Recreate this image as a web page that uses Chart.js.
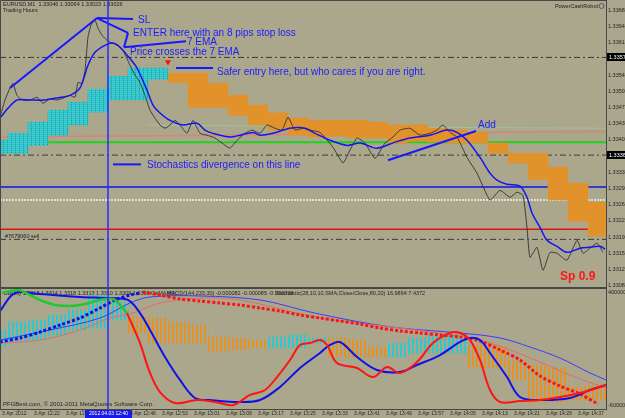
<!DOCTYPE html>
<html>
<head>
<meta charset="utf-8">
<title>EURUSD,M1</title>
<script src="https://cdn.jsdelivr.net/npm/chart.js@4.4.1/dist/chart.umd.min.js"></script>
<style>
    html, body { margin: 0; padding: 0; background: #aaa78c; }
    #wrap { position: relative; width: 625px; height: 418px; overflow: hidden; }
    canvas { position: absolute; left: 0; }
    #mainChart { top: 0; }
    #subChart { top: 288px; }
</style>
</head>
<body>
<div id="wrap">
    <canvas id="mainChart" width="625" height="288"></canvas>
    <canvas id="subChart" width="625" height="130"></canvas>
</div>
<script>
const FONT = "'Liberation Sans', Arial, sans-serif"
const BG = '#aaa78c'
const FRAME = '#474747'
const LAST_BAR = 151.5 // bars visible on screen (one M1 candle per step)

// ---- axis labels ----
const priceTicks = [1.33680, 1.33645, 1.33610, 1.33575, 1.33540, 1.33505, 1.33470, 1.33435, 1.33400,
    1.33365, 1.33330, 1.33295, 1.33260, 1.33225, 1.33190, 1.33155, 1.33120, 1.33085]
const timeTickBars = [0.5, 8.5, 16.5, 24.5, 32.5, 40.5, 48.5, 56.5, 64.5, 72.5, 80.5, 88.5, 96.5,
    104.5, 112.5, 120.5, 128.5, 136.5, 144.5]
const timeLabels = ['3 Apr 2012', '3 Apr 12:22', '3 Apr 12:30', '3 Apr 12:38', '3 Apr 12:46', '3 Apr 12:53',
    '3 Apr 13:01', '3 Apr 13:09', '3 Apr 13:17', '3 Apr 13:25', '3 Apr 13:33', '3 Apr 13:41', '3 Apr 13:49',
    '3 Apr 13:57', '3 Apr 14:05', '3 Apr 14:13', '3 Apr 14:21', '3 Apr 14:29', '3 Apr 14:37']
const subTickVals = [96, 2.5]
const subTickLabels = ['400000', '-600000']
const entryBar = 27
const entryTime = '2012.04.03 12:40'

// ---- price window: [bar, price] ----
const closeLine = [[0, 1.33449], [1.25, 1.33486], [2.5, 1.33512], [3.25, 1.33522], [4.25, 1.33496], [5.5, 1.33486],
    [7.5, 1.33486], [9.25, 1.33492], [10.75, 1.33479], [12.5, 1.33488], [14.25, 1.33486], [15.75, 1.33490],
    [17.5, 1.33496], [18.75, 1.33492], [19.5, 1.33524], [20.5, 1.33522], [21.25, 1.33550], [22, 1.33622],
    [22.75, 1.33648], [23.75, 1.33658], [24.5, 1.33641], [25.5, 1.33626], [26.75, 1.33615], [28, 1.33609],
    [29.5, 1.33604], [31, 1.33589], [32.5, 1.33561], [33.75, 1.33540], [35, 1.33524], [36.25, 1.33496],
    [37.5, 1.33464], [38.75, 1.33447], [40, 1.33432], [41.25, 1.33425], [42.5, 1.33432], [43.75, 1.33442],
    [45, 1.33432], [46.75, 1.33414], [48.25, 1.33442], [50, 1.33414], [51.75, 1.33410], [53.75, 1.33404],
    [55.5, 1.33393], [57.5, 1.33382], [59.25, 1.33399], [61.25, 1.33414], [63, 1.33421], [65, 1.33414],
    [66.75, 1.33432], [68.75, 1.33425], [70.5, 1.33421], [72, 1.33449], [73.75, 1.33421], [75.75, 1.33425],
    [77.5, 1.33421], [80, 1.33416], [83.25, 1.33384], [85.75, 1.33350], [87.5, 1.33378], [89.25, 1.33404],
    [91.25, 1.33393], [93.75, 1.33360], [96.25, 1.33393], [98.25, 1.33406], [100, 1.33421], [102.5, 1.33425],
    [105, 1.33410], [107.5, 1.33414], [109.25, 1.33421], [110.75, 1.33432], [112.5, 1.33416], [114.25, 1.33406],
    [116.75, 1.33362], [119.25, 1.33328], [122.5, 1.33270], [125, 1.33291], [127.5, 1.33276], [129.25, 1.33287],
    [130.75, 1.33280], [131.75, 1.33211], [132.5, 1.33146], [134.25, 1.33168], [135.75, 1.33118], [137.5, 1.33157],
    [139.25, 1.33155], [141.75, 1.33140], [144.25, 1.33183], [145.75, 1.33155], [147.5, 1.33166], [149.25, 1.33177],
    [150.75, 1.33157]]
const ema7 = [[0, 1.33447], [2, 1.33468], [4.25, 1.33486], [7.5, 1.33486], [11.25, 1.33486], [13.75, 1.33490],
    [17.5, 1.33496], [20, 1.33512], [22, 1.33561], [23.75, 1.33589], [26.25, 1.33604], [28.25, 1.33609],
    [30, 1.33600], [31.75, 1.33583], [34.25, 1.33555], [36.75, 1.33507], [38.25, 1.33475], [40, 1.33458],
    [42.5, 1.33442], [45.75, 1.33432], [49.25, 1.33436], [51.25, 1.33421], [53.25, 1.33414], [57.5, 1.33406],
    [60, 1.33410], [63.25, 1.33416], [65, 1.33410], [68.25, 1.33414], [72.5, 1.33425], [76.25, 1.33425],
    [78.75, 1.33414], [82.5, 1.33399], [86.75, 1.33388], [90, 1.33393], [94.25, 1.33382], [98.75, 1.33395],
    [102.5, 1.33404], [107.5, 1.33410], [111.75, 1.33421], [114.25, 1.33416], [116.75, 1.33399], [120, 1.33362],
    [122.5, 1.33328], [124.25, 1.33313], [126.75, 1.33304], [130, 1.33300], [131.75, 1.33276], [133, 1.33242],
    [135, 1.33211], [136.75, 1.33183], [139.25, 1.33170], [141.75, 1.33157], [145, 1.33166], [147.5, 1.33168],
    [150, 1.33170], [151.25, 1.33164]]
const slowMa = [[0, 1.33406], [40, 1.33409], [80, 1.33412], [120, 1.33416], [151.5, 1.33418]]
const paleMa = [[37, 1.33432], [90, 1.33428], [151.5, 1.33425]]

const dashDotLevels = [1.33578, 1.33367, 1.33185]
const greenLevel = 1.33395
const blueLevel = 1.33298
const whiteLevel = 1.33270
const redLevel = 1.33207

// box bars, 5 candles each
const cyanBoxBars = [-0.5, 4.5, 9.5, 14.5, 19.5, 24.5, 29.5, 34.5, 39.5]
const cyanBoxHigh = [1.33399, 1.33414, 1.33438, 1.33464, 1.33481, 1.33509, 1.33537, 1.33555, 1.33555]
const cyanBoxLow = [1.33371, 1.33371, 1.33388, 1.33410, 1.33432, 1.33460, 1.33486, 1.33486, 1.33531]
const orangeBoxBars = [44.5, 49.5, 54.5, 59.5, 64.5, 69.5, 74.5, 79.5, 84.5, 89.5, 94.5, 99.5, 104.5, 109.5,
    114.5, 119.5, 124.5, 129.5, 134.5, 139.5, 144.5, 149.5]
const orangeBoxHigh = [1.33544, 1.33544, 1.33522, 1.33496, 1.33475, 1.33458, 1.33447, 1.33442, 1.33442, 1.33442,
    1.33438, 1.33432, 1.33432, 1.33425, 1.33421, 1.33416, 1.33393, 1.33371, 1.33371, 1.33341, 1.33306, 1.33265]
const orangeBoxLow = [1.33524, 1.33470, 1.33470, 1.33453, 1.33432, 1.33421, 1.33410, 1.33406, 1.33408, 1.33404,
    1.33404, 1.33393, 1.33397, 1.33395, 1.33393, 1.33393, 1.33371, 1.33350, 1.33315, 1.33270, 1.33224, 1.33192]

// hand drawn trend lines
const drawnLines = [
    [[2.5, 1.33512], [24.25, 1.33663]],
    [[24.25, 1.33663], [33.25, 1.33661]],
    [[24.25, 1.33663], [32, 1.33631]],
    [[32, 1.33631], [31, 1.33600]],
    [[31, 1.33600], [46.5, 1.33613]],
    [[44, 1.33555], [53.25, 1.33555]],
    [[28.25, 1.33347], [35.25, 1.33347]],
    [[97, 1.33356], [119, 1.33419]],
]
const arrowPoint = [42, 1.33568]
const notes = [
    ['SL', 34.5, 1.33659],
    ['ENTER here with an 8 pips stop loss', 33.25, 1.33631],
    ['7 EMA', 46.75, 1.33611],
    ['Price crosses the 7 EMA', 32.5, 1.33590],
    ['Safer entry here, but who cares if you are right.', 54.25, 1.33546],
    ['Add', 119.5, 1.33432],
    ['Stochastics divergence on this line', 36.75, 1.33346],
]
const spreadNote = ['Sp 0.9', 140, 1.33104]

// ---- indicator window: [bar, value] ----
const subBoxBars = [-0.5, 4.5, 9.5, 14.5, 19.5, 24.5, 29.5, 34.5, 39.5, 44.5, 49.5, 54.5, 59.5, 64.5, 69.5,
    74.5, 79.5, 84.5, 89.5, 94.5, 99.5, 104.5, 109.5, 114.5, 119.5, 124.5, 129.5, 134.5, 139.5, 144.5, 149.5]
const subBoxHigh = [65.3, 71.9, 73.6, 77.7, 81.8, 94.2, 88.4, 76.0, 75.2, 71.9, 69.4, 59.5, 58.7, 57.0, 59.5,
    61.2, 58.7, 58.7, 57.0, 51.2, 54.5, 58.7, 61.2, 61.2, 52.9, 51.2, 40.5, 36.4, 33.9, 18.2, 19.8]
const subBoxLow = [51.2, 55.4, 57.0, 61.2, 65.3, 66.9, 73.6, 62.8, 54.5, 54.5, 54.5, 47.1, 48.8, 50.4, 50.4,
    50.4, 54.5, 43.0, 43.0, 43.0, 43.0, 46.3, 46.3, 46.3, 33.9, 33.9, 24.0, 5.8, 5.8, 7.4, 7.4]
const subBoxUp = [1, 1, 1, 1, 1, 1, 1, 0, 0, 0, 0, 0, 0, 0, 1, 1, 1, 0, 0, 0, 1, 1, 1, 1, 0, 0, 0, 0, 0, 0, 0]

const stochMainUp = [[0.5, 95.9], [4.5, 98.3], [7.5, 94.2], [10, 90.1], [13.75, 86.0], [17.5, 85.1], [21.25, 86.8],
    [25, 90.1], [28.25, 90.9], [30, 86.0], [31.75, 79.3]]
const stochMainDown = [[31.75, 79.3], [35, 54.5], [37.5, 29.8], [40, 14.0], [43.75, 5.0], [49.25, 7.4], [53.75, 5.8],
    [58.25, 3.3], [62.5, 11.6], [66.25, 15.7], [69.25, 26.4], [72.5, 40.5], [75, 52.9], [77.5, 54.5], [80, 57.0],
    [81.75, 52.9], [84.25, 38.0], [89.25, 33.9], [93.25, 26.4], [96.75, 34.7], [100, 29.8], [104.25, 38.8],
    [108.25, 54.5], [112.5, 62.8], [115, 62.8], [117.5, 57.0], [120, 40.5], [122.5, 15.7], [125, 5.8], [130, 6.6],
    [135, 7.4], [140, 9.9], [145, 13.2], [150, 18.2], [151.5, 19.8]]
const stochSignal = [[0, 81.0], [3.75, 95.9], [10, 95.0], [20, 92.6], [27.5, 91.7], [32, 90.1], [35, 79.3],
    [37.5, 65.3], [41.25, 43.0], [45, 24.0], [48.75, 9.1], [52.5, 7.4], [60, 5.8], [65, 7.4], [70, 18.2], [75, 33.9],
    [80, 46.3], [82.5, 52.9], [85, 55.4], [89.25, 43.0], [94.25, 32.2], [100, 30.6], [104.25, 36.4], [110, 44.6],
    [115, 55.4], [117.5, 58.7], [120, 57.0], [122.5, 46.3], [126.75, 26.4], [130, 9.9], [135, 7.4], [142.5, 9.1],
    [147.5, 15.7], [151.5, 19.8]]
const macdSignalUp = [[0, 55.4], [5, 58.7], [10, 63.6], [15, 69.4], [20, 75.2], [25, 83.5], [28.75, 90.1],
    [32.5, 94.2], [35, 95.9]]
const macdSignalDown = [[35.75, 96.7], [40, 94.2], [45, 90.9], [50, 89.3], [55, 87.6], [60, 86.0], [65, 83.5],
    [70, 81.0], [75, 77.7], [80, 75.2], [85, 72.7], [90, 70.2], [95, 66.9], [100, 64.5], [105, 62.8], [110, 61.2],
    [115, 59.5], [120, 56.2], [125, 48.8], [130, 40.5], [135, 27.3], [140, 19.0], [145, 12.4], [149.5, 4.1]]
const macdMain = [[0, 57.0], [12.5, 65.3], [25, 75.2], [32.5, 87.6], [37.5, 92.6], [50, 93.4], [65, 90.1],
    [77.5, 80.2], [90, 71.9], [100, 66.9], [115, 62.8], [125, 58.7], [132.5, 51.2], [140, 42.1], [147.5, 29.8],
    [151.5, 24.0]]
const macdSlow = [[0, 54.5], [10, 57.0], [20, 65.3], [27.5, 75.2], [33.25, 79.3], [40, 87.6], [50, 91.7],
    [60, 90.1], [77.5, 76.9], [87.5, 71.9], [100, 66.9], [112.5, 61.2], [120, 57.0], [127.5, 48.8], [135, 38.8],
    [142.5, 28.1], [150, 19.0], [151.5, 17.4]]

// ---- helpers ----
const toXY = (pts) => pts.map(([x, y]) => ({ x, y }))
const flat = (v) => [{ x: 0, y: v }, { x: LAST_BAR, y: v }]
const boxes = (bars, lo, hi) => bars.map((b, i) => ({ x: b, y: [lo[i], hi[i]] }))

function lineSet(data, color, width, order, extra) {
    return Object.assign({
        type: 'line',
        data,
        borderColor: color,
        borderWidth: width,
        pointRadius: 0,
        fill: false,
        tension: 0,
        order,
    }, extra || {})
}

function boxSet(data, fill, order) {
    return {
        type: 'bar',
        data,
        backgroundColor: fill,
        borderWidth: 0,
        barThickness: 20,
        grouped: false,
        order,
    }
}

function stripes(ctx, color, on, speck) {
    const c = document.createElement('canvas')
    c.width = 4
    c.height = 2
    const g = c.getContext('2d')
    g.fillStyle = color
    g.fillRect(0, 0, on, 2)
    if (speck) {
        g.fillStyle = speck
        g.fillRect(3, 0, 1, 1)
    }
    return ctx.createPattern(c, 'repeat')
}

function priceAxis(ticks, labelFn) {
    return {
        position: 'right',
        afterBuildTicks: (s) => { s.ticks = ticks.map((v) => ({ value: v })) },
        afterFit: (s) => { s.width = 19; s.paddingTop = 0; s.paddingBottom = 0 },
        grid: { drawOnChartArea: false, tickLength: 1, color: FRAME },
        border: { color: FRAME },
        ticks: { callback: labelFn, font: { family: FONT, size: 5.5 }, color: '#262626', padding: 1 },
    }
}

const fillBg = {
    id: 'fillBg',
    beforeDraw(chart) {
        const ctx = chart.ctx
        ctx.save()
        ctx.fillStyle = BG
        ctx.fillRect(0, 0, chart.width, chart.height)
        ctx.restore()
    },
}

const baseOptions = {
    responsive: false,
    animation: false,
    events: [],
    layout: { padding: 0, autoPadding: false },
    plugins: { legend: { display: false }, tooltip: { enabled: false } },
}

// ---- main chart ----
const mainCtx = document.getElementById('mainChart').getContext('2d')

const mainDecor = {
    id: 'mainDecor',
    beforeDatasetsDraw(chart) {
        const { ctx, chartArea: a } = chart
        ctx.save()
        ctx.fillStyle = '#1e1e1e'
        ctx.font = '5.5px ' + FONT
        ctx.textBaseline = 'middle'
        ctx.fillText('EURUSD,M1  1.33046 1.33064 1.33023 1.33026', a.left + 3, a.top + 4)
        ctx.fillText('Trading Hours', a.left + 3, a.top + 10)
        ctx.fillText('#7679060 sell', a.left + 5, chart.scales.y.getPixelForValue(dashDotLevels[2]) - 3)
        ctx.textAlign = 'right'
        ctx.fillText('PowerCashRobot', a.right - 8, a.top + 6)
        ctx.strokeStyle = '#555'
        ctx.beginPath()
        ctx.arc(a.right - 4.5, a.top + 6, 2.5, 0, Math.PI * 2)
        ctx.stroke()
        ctx.restore()
    },
    afterDatasetsDraw(chart) {
        const { ctx, chartArea: a, scales: { x, y } } = chart
        ctx.save()
        ctx.textBaseline = 'middle'
        ctx.font = '10px ' + FONT
        ctx.fillStyle = '#1c1cff'
        notes.forEach(([t, b, p]) => ctx.fillText(t, x.getPixelForValue(b), y.getPixelForValue(p)))
        ctx.font = 'bold 12px ' + FONT
        ctx.fillStyle = '#ff1717'
        ctx.fillText(spreadNote[0], x.getPixelForValue(spreadNote[1]), y.getPixelForValue(spreadNote[2]))
        // frame
        ctx.strokeStyle = FRAME
        ctx.lineWidth = 1
        ctx.beginPath()
        ctx.moveTo(a.left + 0.5, a.bottom)
        ctx.lineTo(a.left + 0.5, a.top + 0.5)
        ctx.lineTo(a.right, a.top + 0.5)
        ctx.moveTo(a.left, a.bottom - 0.5)
        ctx.lineTo(a.right, a.bottom - 0.5)
        ctx.stroke()
        ctx.restore()
    },
    afterDraw(chart) {
        const { ctx, chartArea: a, scales: { y } } = chart
        ctx.save()
        ctx.font = '5.5px ' + FONT
        ctx.textBaseline = 'middle'
        dashDotLevels.slice(0, 2).forEach((p) => {
            const py = Math.round(y.getPixelForValue(p))
            ctx.fillStyle = '#000'
            ctx.fillRect(a.right + 1, py - 4, 20, 8)
            ctx.fillStyle = '#fff'
            ctx.fillText(p.toFixed(5), a.right + 3, py)
        })
        ctx.restore()
    },
}

const cyanFill = stripes(mainCtx, '#35c8cc', 4, '#2a8f98')
const orangeFill = '#e2922a'

const mainDatasets = [
    ...dashDotLevels.map((v) => lineSet(flat(v), '#3a3a3a', 1, 20, { borderDash: [6, 3, 2, 3] })),
    lineSet(flat(greenLevel), '#1ed21e', 2, 19),
    lineSet(flat(blueLevel), '#1010f0', 1.5, 19),
    lineSet(flat(whiteLevel), '#f6f4e4', 1.5, 19, { borderDash: [2, 1] }),
    lineSet(flat(redLevel), '#e31212', 1.5, 19),
    lineSet(toXY(slowMa), '#d4867a', 1.5, 18),
    lineSet(toXY(paleMa), '#9ec49a', 1, 18),
    boxSet(boxes(cyanBoxBars, cyanBoxLow, cyanBoxHigh), cyanFill, 15),
    boxSet(boxes(orangeBoxBars, orangeBoxLow, orangeBoxHigh), orangeFill, 15),
    lineSet(toXY(closeLine), '#3c3c3c', 1, 10, { tension: 0.15 }),
    lineSet(toXY(ema7), '#1414f0', 1.5, 9, { tension: 0.3 }),
    ...drawnLines.map((seg) => lineSet(toXY(seg), '#1818ff', 2, 5)),
    lineSet([{ x: entryBar, y: 1.33080 }, { x: entryBar, y: 1.33702 }], '#2a2aff', 1.5, 4),
    lineSet([{ x: arrowPoint[0], y: arrowPoint[1] }], '#ff1010', 0, 3, {
        showLine: false, pointRadius: 3.5, pointStyle: 'triangle', rotation: 180,
        pointBackgroundColor: '#ff1010', pointBorderWidth: 0,
    }),
]

new Chart(mainCtx, {
    type: 'bar',
    data: { datasets: mainDatasets },
    options: Object.assign({}, baseOptions, {
        scales: {
            x: { type: 'linear', min: 0, max: LAST_BAR, offset: false, display: false },
            y: Object.assign(priceAxis(priceTicks, (v) => v.toFixed(5)), { min: 1.33080, max: 1.33702 }),
        },
    }),
    plugins: [fillBg, mainDecor],
})

// ---- indicator chart ----
const subCtx = document.getElementById('subChart').getContext('2d')
const subCyan = stripes(subCtx, '#33c6cc', 2)
const subOrange = stripes(subCtx, '#e2922a', 2)

const subBoxData = boxes(subBoxBars, subBoxLow, subBoxHigh)

const subDecor = {
    id: 'subDecor',
    beforeDatasetsDraw(chart) {
        const { ctx, chartArea: a } = chart
        ctx.save()
        ctx.fillStyle = '#262626'
        ctx.font = '5.5px ' + FONT
        ctx.textBaseline = 'middle'
        ctx.fillText('BB(20) 1.3318 1.3314 1.3318 1.3313 1.3310 1.3309 1.3306 OsMA(89)', a.left + 4, a.top + 5)
        ctx.fillText('MACD(144,233,30) -0.000082 -0.000085 -0.000038', a.left + 167, a.top + 5)
        ctx.fillText('Stochastic(28,10,10,SMA,Close/Close,80,20) 16.9864 7.4372', a.left + 275, a.top + 5)
        ctx.font = '6px ' + FONT
        ctx.fillText('PFGBest.com, \u00a9 2001-2011 MetaQuotes Software Corp.', a.left + 3, a.bottom - 5)
        ctx.restore()
    },
    afterDraw(chart) {
        const { ctx, chartArea: a, scales: { x } } = chart
        ctx.save()
        ctx.strokeStyle = FRAME
        ctx.beginPath()
        ctx.moveTo(a.left + 0.5, a.bottom)
        ctx.lineTo(a.left + 0.5, a.top + 0.5)
        ctx.lineTo(a.right, a.top + 0.5)
        ctx.stroke()
        const cx = x.getPixelForValue(entryBar)
        ctx.fillStyle = '#1a1ae6'
        ctx.fillRect(cx - 23, a.bottom + 1, 47, chart.height - a.bottom - 1)
        ctx.fillStyle = '#fff'
        ctx.font = '5px ' + FONT
        ctx.textAlign = 'center'
        ctx.textBaseline = 'middle'
        ctx.fillText(entryTime, cx + 0.5, a.bottom + 5)
        ctx.restore()
    },
}

new Chart(subCtx, {
    type: 'bar',
    data: {
        datasets: [
            boxSet(subBoxData.filter((d, i) => subBoxUp[i]), subCyan, 20),
            boxSet(subBoxData.filter((d, i) => !subBoxUp[i]), subOrange, 20),
            lineSet(toXY(macdSlow), '#e36c6c', 1, 15, { tension: 0.35 }),
            lineSet(toXY(macdMain), '#3c3cff', 1, 15, { tension: 0.35 }),
            lineSet(toXY(macdSignalUp), '#1212e6', 3, 12, { tension: 0.3, borderDash: [3, 2], borderCapStyle: 'butt' }),
            lineSet(toXY(macdSignalDown), '#ff1212', 3, 12, { tension: 0.3, borderDash: [3, 2], borderCapStyle: 'butt' }),
            lineSet(toXY(stochSignal), '#1010e8', 2, 10, { tension: 0.35 }),
            lineSet(toXY(stochMainUp), '#22c832', 2.5, 9, { tension: 0.35 }),
            lineSet(toXY(stochMainDown), '#ff1414', 2, 8, { tension: 0.35 }),
            lineSet([{ x: entryBar, y: 0 }, { x: entryBar, y: 100 }], '#2a2aff', 1.5, 4),
        ],
    },
    options: Object.assign({}, baseOptions, {
        scales: {
            x: {
                type: 'linear',
                min: 0,
                max: LAST_BAR,
                offset: false,
                afterBuildTicks: (s) => { s.ticks = timeTickBars.map((v) => ({ value: v })) },
                afterFit: (s) => { s.height = 9; s.paddingLeft = 0; s.paddingRight = 0 },
                grid: { drawOnChartArea: false, tickLength: 2, color: FRAME },
                border: { color: FRAME },
                ticks: {
                    callback: (v, i) => timeLabels[i],
                    autoSkip: false,
                    maxRotation: 0,
                    minRotation: 0,
                    align: 'start',
                    padding: 0,
                    font: { family: FONT, size: 5 },
                    color: '#262626',
                },
            },
            y: Object.assign(priceAxis(subTickVals, (v, i) => subTickLabels[i]), { min: 0, max: 100 }),
        },
    }),
    plugins: [fillBg, subDecor],
})
</script>
</body>
</html>
